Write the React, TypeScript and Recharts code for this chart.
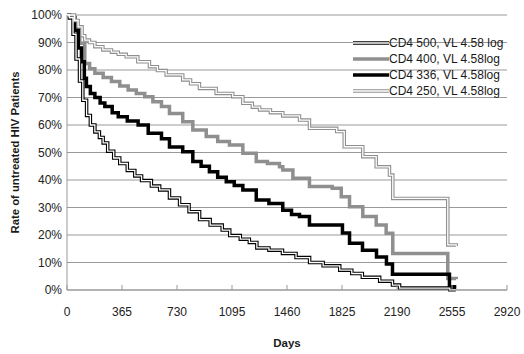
import React from 'react';
import { LineChart, Line, XAxis, YAxis, CartesianGrid, Legend } from 'recharts';

const FONT = "'Liberation Sans', Arial, sans-serif";

const xTicks = [0, 365, 730, 1095, 1460, 1825, 2190, 2555, 2920];
const yTicks = [0, 10, 20, 30, 40, 50, 60, 70, 80, 90, 100];

const cd4_500_days = [0, 15, 40, 60, 83, 105, 130, 155, 185, 215, 240, 270, 310, 350, 400, 450, 495, 560, 615, 680, 747, 810, 880, 950, 1030, 1080, 1150, 1210, 1260, 1340, 1430, 1520, 1610, 1700, 1810, 1890, 1960, 2075, 2160, 2207, 2540, 2580];
const cd4_500_rate = [100, 99, 93, 84, 76, 69, 63.5, 60, 57.5, 55.5, 53.5, 50.5, 48, 46, 43.5, 41.5, 39.8, 37.8, 36.4, 33.5, 31, 28.5, 25.6, 23.6, 21.8, 19.8, 18.5, 17.3, 15.3, 14.5, 13.3, 11.8, 10, 8.8, 7.2, 6, 4.6, 3.2, 1.8, 0.7, 0.1, 0.1];

const cd4_400_days = [0, 17, 50, 85, 118, 150, 185, 240, 295, 350, 406, 460, 516, 570, 627, 680, 768, 835, 924, 1000, 1078, 1167, 1256, 1330, 1410, 1432, 1499, 1609, 1760, 1820, 1875, 1963, 2052, 2118, 2162, 2527, 2583];
const cd4_400_rate = [100, 99.5, 95, 89.7, 82.4, 80.5, 78.8, 77.3, 75.8, 74.2, 72.7, 71.5, 70.3, 68.5, 66.7, 64.2, 61.2, 58.2, 55.8, 54, 52.7, 49.7, 46.7, 46, 44.8, 43.6, 40.6, 37.6, 37, 33.9, 30.3, 26.7, 23.6, 20.6, 13.3, 4.2, 4.0];

const cd4_336_days = [0, 17, 52, 75, 96, 115, 129, 155, 185, 220, 251, 300, 340, 400, 472, 539, 627, 680, 768, 835, 890, 945, 1000, 1057, 1110, 1167, 1256, 1340, 1432, 1490, 1543, 1609, 1828, 1875, 1961, 2054, 2120, 2160, 2538, 2572];
const cd4_336_rate = [100, 99, 94.5, 88, 83, 77, 74, 71.5, 70, 68, 66.7, 64.5, 63, 61.5, 60, 57, 55, 52, 50.3, 46.7, 45, 43, 41, 39.4, 38, 36.4, 32.7, 31.5, 29, 27.5, 26.7, 23.6, 20.7, 17, 14.5, 12, 9.5, 5.7, 1.2, 0.5];

const cd4_250_days = [0, 30, 50, 74, 100, 118, 149, 185, 238, 295, 340, 393, 470, 547, 600, 658, 768, 820, 879, 990, 1100, 1167, 1230, 1278, 1350, 1432, 1543, 1609, 1790, 1840, 1963, 2052, 2140, 2162, 2527, 2583];
const cd4_250_rate = [100, 100, 98, 95.7, 92.5, 90.9, 90, 88.5, 87.3, 86.5, 85.7, 84.8, 83, 81.2, 79.8, 78.2, 76.4, 75, 73.3, 71.5, 70.3, 67.9, 66.5, 65.5, 64.5, 63.3, 61.8, 58.8, 57.6, 52.1, 48.5, 44.8, 41.8, 33.3, 16.4, 16];

const seriesNames = ['CD4 500, VL 4.58 log', 'CD4 400, VL 4.58log', 'CD4 336, VL 4.58log', 'CD4 250, VL 4.58log'];

const toData = (days: number[], rates: number[]) => days.map((d, i) => ({ day: d, rate: rates[i] }));

const GRAY = '#8f8f8f';

const series = [
  { name: seriesNames[0], data: toData(cd4_500_days, cd4_500_rate), color: '#000000', double: true },
  { name: seriesNames[1], data: toData(cd4_400_days, cd4_400_rate), color: GRAY, double: false },
  { name: seriesNames[2], data: toData(cd4_336_days, cd4_336_rate), color: '#000000', double: false },
  { name: seriesNames[3], data: toData(cd4_250_days, cd4_250_rate), color: GRAY, double: true },
];

const renderLegend = () => (
  <div style={{ fontFamily: FONT, fontSize: 12, color: '#1a1a1a' }}>
    {series.map((s) => (
      <div key={s.name} style={{ display: 'flex', alignItems: 'center', height: 16 }}>
        <svg width={36} height={16} style={{ display: 'block' }}>
          <line x1={0} x2={36} y1={8} y2={8} stroke={s.color} strokeWidth={3.5} />
          {s.double && <line x1={0} x2={36} y1={8} y2={8} stroke="#ffffff" strokeWidth={1.3} />}
        </svg>
        <span style={{ whiteSpace: 'nowrap', lineHeight: '16px' }}>{s.name}</span>
      </div>
    ))}
  </div>
);

const YTitle = (props: any) => {
  const vb = props.viewBox || { x: 0, y: 15, width: 67, height: 275 };
  const cx = vb.x + 19;
  const cy = vb.y + vb.height / 2;
  return (
    <text x={cx} y={cy} transform={`rotate(-90, ${cx}, ${cy})`} textAnchor="middle" fontFamily={FONT} fontWeight="bold" fontSize={11.3} fill="#1a1a1a">
      Rate of untreated HIV Patients
    </text>
  );
};

const XTitle = (props: any) => {
  const vb = props.viewBox || { x: 67, y: 290, width: 440, height: 24 };
  return (
    <text x={vb.x + vb.width / 2} y={vb.y + 57} textAnchor="middle" fontFamily={FONT} fontWeight="bold" fontSize={11.5} fill="#1a1a1a">
      Days
    </text>
  );
};

export default function App() {
  return (
    <div style={{ position: 'absolute', left: 0, top: 0, background: '#fff' }}>
      <LineChart width={524} height={354} margin={{ top: 15, right: 17, bottom: 40, left: 0 }}>
        <CartesianGrid vertical={false} stroke="#999999" strokeWidth={1} />
        <XAxis
          dataKey="day"
          type="number"
          domain={[0, 2920]}
          ticks={xTicks}
          interval={0}
          height={24}
          tickSize={-5}
          tickMargin={22.5}
          axisLine={{ stroke: '#999999' }}
          tickLine={{ stroke: '#999999' }}
          tick={{ fill: '#222222', fontSize: 12, fontFamily: FONT }}
          label={{ content: XTitle }}
        />
        <YAxis
          type="number"
          domain={[0, 100]}
          ticks={yTicks}
          interval={0}
          width={67}
          tickSize={0}
          tickMargin={5}
          tickFormatter={(v: number) => `${v}%`}
          axisLine={{ stroke: '#999999' }}
          tickLine={false}
          tick={{ fill: '#222222', fontSize: 12, fontFamily: FONT }}
          label={{ content: YTitle }}
        />
        <Legend
          layout="vertical"
          align="center"
          verticalAlign="middle"
          content={renderLegend}
          wrapperStyle={{ position: 'absolute', left: 353, top: 35, width: 170, margin: 0, padding: 0 }}
        />
        {series.map((s, i) => (
          <Line
            key={`outer-${i}`}
            data={s.data}
            dataKey="rate"
            name={s.name}
            type="stepAfter"
            stroke={s.color}
            strokeWidth={3.5}
            dot={false}
            activeDot={false}
            isAnimationActive={false}
            strokeLinejoin="miter"
          />
        ))}
        {series.filter((s) => s.double).map((s, i) => (
          <Line
            key={`inner-${i}`}
            data={s.data}
            dataKey="rate"
            name={`${s.name} inner`}
            legendType="none"
            type="stepAfter"
            stroke="#ffffff"
            strokeWidth={1.3}
            dot={false}
            activeDot={false}
            isAnimationActive={false}
            strokeLinejoin="miter"
          />
        ))}
      </LineChart>
    </div>
  );
}
